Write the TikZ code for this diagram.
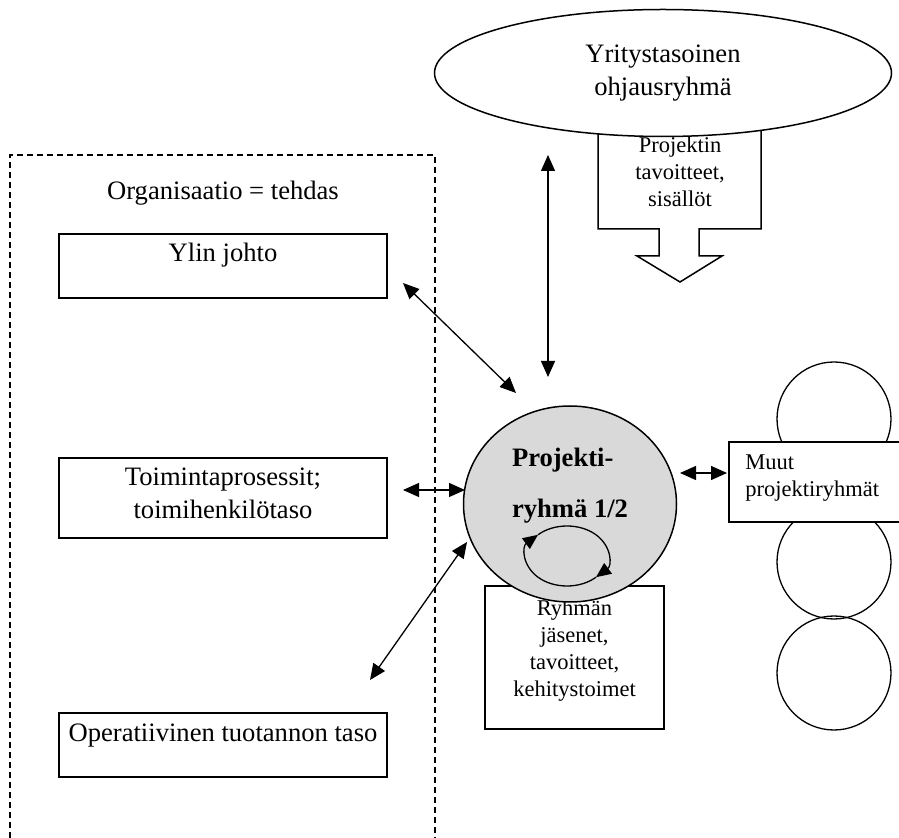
\documentclass[tikz,border=0pt]{standalone}
\usepackage{fontspec}
\setmainfont{Liberation Serif}
\usetikzlibrary{shapes.geometric, arrows.meta}
\newcommand{\mainfs}{\fontsize{13.3pt}{16.5pt}\selectfont}
\newcommand{\smallfs}{\fontsize{11.25pt}{13.5pt}\selectfont}
\newcommand{\projfs}{\fontsize{13.3pt}{25.5pt}\selectfont\bfseries}
\tikzstyle{levelbox} = [rectangle, draw, fill=white, line width=1pt, minimum width=164pt, inner sep=0pt]
\tikzstyle{link} = [line width=0.65pt, {Triangle[length=8pt,width=7pt]}-{Triangle[length=8pt,width=7pt]}]

\begin{document}
\begin{tikzpicture}[x=0.5pt, y=-0.5pt,
    boxtext/.style={anchor=north, inner sep=0pt, align=center, font=\mainfs},
    loop/.style={line width=0.65pt, -{Triangle[length=7.5pt,width=6.5pt]}},
]

\useasboundingbox (0,0) rectangle (899,838);

% Organisation frame
\draw[dash pattern=on 3pt off 2pt, line width=0.6pt] (10,838) -- (10,155) -- (435,155) -- (435,838);
\node[font=\mainfs] (orgtitle) at (223,193) {Organisaatio = tehdas};

% Levels of the organisation
\node[levelbox, minimum height=32pt, label={[boxtext, yshift=-5pt]north:{Ylin johto}}] (ylin) at (223,266) {};
\node[levelbox, minimum height=40pt, label={[boxtext, yshift=-5pt]north:{Toimintaprosessit;\\toimihenkilötaso}}] (toiminta) at (223,498) {};
\node[levelbox, minimum height=32pt, label={[boxtext, yshift=-5.5pt]north:{Operatiivinen tuotannon taso}}] (operat) at (223,745) {};

% Goals coming from the steering group
\draw[line width=0.75pt, fill=white] (598,110) -- (598,229) -- (659,229) -- (659,256) -- (637,256) -- (680,282)
    -- (722,256) -- (699,256) -- (699,229) -- (761,229) -- (761,110);
\node[font=\smallfs, align=center] (goals) at (680,172) {Projektin\\tavoitteet,\\sisällöt};

% Steering group
\node[ellipse, draw, fill=white, line width=0.75pt, minimum width=228.5pt, minimum height=63.5pt,
      font=\mainfs, align=center] (ohjaus) at (663,73) {Yritystasoinen\\ohjausryhmä};

% Other project groups
\foreach \n/\y in {1/419, 2/562, 3/673}
    \node[circle, draw, line width=0.65pt, minimum size=57pt, inner sep=0pt] (other\n) at (834,\y) {};
\node[levelbox, minimum width=100pt, minimum height=40pt, anchor=west,
      label={[boxtext, anchor=north west, align=left, font=\smallfs, xshift=8.5pt, yshift=-6.5pt]north west:{Muut\\projektiryhmät}}] (muut) at (728,482) {};

% Project group
\node[levelbox, minimum width=89.5pt, minimum height=71.5pt,
      label={[boxtext, font=\smallfs, yshift=-7pt]north:{Ryhmän\\jäsenet,\\tavoitteet,\\kehitystoimet}}] (members) at (574.5,657.5) {};
\node[ellipse, draw, fill=gray!30, line width=0.75pt, minimum width=106.5pt, minimum height=98pt,
      label={[boxtext, align=left, font=\projfs, yshift=-21pt]north:{Projekti-\\ryhmä 1/2}}] (proj) at (570,504) {};
\draw[loop] (567,556) ++(45:41 and 30) arc[start angle=45, end angle=225, x radius=41, y radius=30];
\draw[loop] (567,556) ++(225:41 and 30) arc[start angle=225, end angle=405, x radius=41, y radius=30];

% Connector ends
\coordinate (ohjausfoot) at (548,155);
\coordinate (projtop) at (548,377);
\coordinate (ylinend) at (403,283);
\coordinate (projnw) at (516,393);
\coordinate (toimintaend) at (403,490);
\coordinate (projw) at (465,490);
\coordinate (operatend) at (370,680);
\coordinate (projsw) at (467,542);
\coordinate (proje) at (680,473);
\coordinate (muutw) at (727,473);

% Connectors
\draw[link] (ohjausfoot) -- (projtop);
\draw[link] (ylinend) -- (projnw);
\draw[link] (toimintaend) -- (projw);
\draw[link] (operatend) -- (projsw);
\draw[link] (proje) -- (muutw);

\end{tikzpicture}
\end{document}
